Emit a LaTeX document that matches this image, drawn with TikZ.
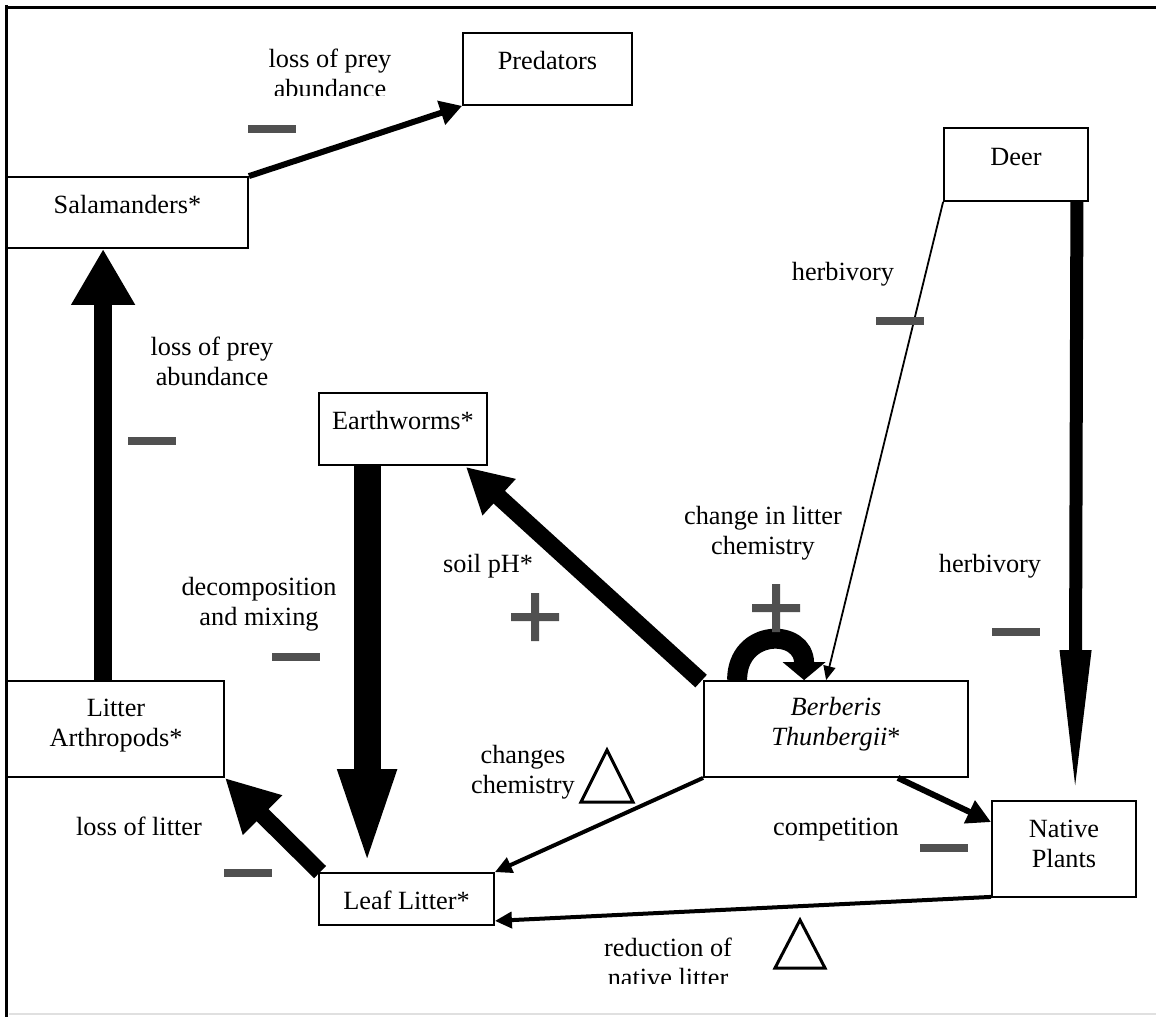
\documentclass[tikz,border=0pt]{standalone}
\usepackage{fontspec}
\setmainfont{Liberation Serif}
\usetikzlibrary{arrows.meta,calc}
\definecolor{sgray}{RGB}{80,80,80}
\begin{document}
\begin{tikzpicture}[x=1pt,y=-1pt,
  box/.style={draw,line width=1.8pt,inner sep=0pt,rectangle},
  txt/.style={font=\fontsize{26.3}{30}\selectfont,inner sep=0pt,align=center},
  minus/.style={fill=sgray,minimum width=48pt,minimum height=8pt,inner sep=0pt,rectangle},
  conn/.style={draw=black},
  tri/.style={draw=black,line width=3pt,line join=miter}
]
\useasboundingbox (0,0) rectangle (1156,1017);
% frame
\draw[line width=3pt] (5,7) -- (1156,7);
\draw[line width=3pt] (6.5,5) -- (6.5,1017);
\draw[black!12,line width=1.5pt] (9,1014) -- (1156,1014);

% boxes
\node[box,minimum width=169pt,minimum height=72pt] (pred) at (547.5,69) {};
\node[box,minimum width=241pt,minimum height=71pt] (sal) at (127.5,212.5) {};
\node[box,minimum width=144pt,minimum height=73pt] (deer) at (1016,164.5) {};
\node[box,minimum width=168pt,minimum height=72pt] (ew) at (403,429) {};
\node[box,minimum width=217pt,minimum height=96pt] (arth) at (115.5,729) {};
\node[box,minimum width=264pt,minimum height=96pt] (ber) at (836,729) {};
\node[box,minimum width=144pt,minimum height=96pt] (nat) at (1064,849) {};
\node[box,minimum width=175pt,minimum height=52pt] (leaf) at (406.5,899) {};

% box texts
\node[txt,anchor=base] (predt) at (547.5,69) {Predators};
\node[txt,anchor=base] (salt) at (127.5,213) {Salamanders*};
\node[txt,anchor=base] (deert) at (1016,165) {Deer};
\node[txt,anchor=base] (ewt) at (403,429) {Earthworms*};
\node[txt,anchor=base] (leaft) at (406.5,909) {Leaf Litter*};
\node[txt] (artht) at (116,725.5) {Litter\\Arthropods*};
\node[txt] (bert) at (836,724.5) {\textit{Berberis}\\\textit{Thunbergii}*};
\node[txt] (natt) at (1064,844) {Native\\Plants};

% connectors
\draw[conn,line width=6pt,-{Triangle[length=22pt,width=24pt]}] (sal.north east) -- (pred.south west);
\draw[conn,line width=18pt,-{Triangle[length=56pt,width=60pt]}] ($(arth.north west)+(97,0)$) -- ($(sal.south west)+(97,0)$);
\draw[conn,line width=27pt,-{Triangle[length=105pt,width=50pt]}] ($(ew.south west)+(49,0)$) -- ($(leaf.north west)+(49,2)$);
\draw[conn,line width=17pt,-{Triangle[length=45pt,width=46pt]}] ($(ber.north west)+(-2,1)$) -- ($(ew.south east)+(-22,1)$);
\draw[conn,line width=17pt,-{Triangle[length=53pt,width=52pt]}] ($(leaf.north west)+(2,0)$) -- (arth.south east);
\draw[conn,line width=1.8pt,-{Triangle[length=14pt,width=12pt]}] (deer.south west) -- ($(ber.north west)+(123,0)$);
\draw[conn,line width=13pt,-{Triangle[length=150pt,width=28pt]}] ($(deer.south east)+(-12,0)$) -- ($(nat.north west)+(84,0)$);
\draw[conn,line width=20pt,-{Triangle[length=18pt,width=42pt]}] ($(ber.north west)+(34,0)$) .. controls +(0,-52) and +(0,-52) .. ($(ber.north west)+(101,0)$);
\draw[conn,line width=6pt,-{Triangle[length=24pt,width=24pt]}] ($(ber.south east)+(-71,0)$) -- ($(nat.north west)+(0,22)$);
\draw[conn,line width=4pt,-{Triangle[length=17pt,width=16pt]}] (ber.south west) -- (leaf.north east);
\draw[conn,line width=4pt,-{Triangle[length=17pt,width=16pt]}] ($(nat.south west)+(0,-1)$) -- ($(leaf.south east)+(0,-5)$);

% labels
\begin{scope}
\clip (200,20) rectangle (460,95);
\node[txt] (l1) at (330,73.5) {loss of prey\\abundance};
\end{scope}
\node[txt] (l2) at (212,361.5) {loss of prey\\abundance};
\node[txt] (l3) at (259,604.5) {decomposition\\and mixing};
\node[txt,anchor=base west] (l4) at (443,572) {soil pH*};
\node[txt] (l5) at (763,533.5) {change in litter\\chemistry};
\node[txt,anchor=base] (l6) at (843,280) {herbivory};
\node[txt,anchor=base] (l7) at (990,572) {herbivory};
\node[txt] (l8) at (523,772) {changes\\chemistry};
\node[txt,anchor=base] (l9) at (836,835) {competition};
\node[txt,anchor=base] (l10) at (139,835) {loss of litter};
\begin{scope}
\clip (500,900) rectangle (850,983);
\node[txt] (l11) at (668,962) {reduction of\\native litter};
\end{scope}

% signs
\node[minus] (m1) at (272,129) {};
\node[minus] (m2) at (152,441) {};
\node[minus] (m3) at (296,657) {};
\node[minus] (m4) at (248,873) {};
\node[minus] (m5) at (900,321) {};
\node[minus] (m6) at (1016,632) {};
\node[minus] (m7) at (944,848) {};
\fill[sgray] (511,613) rectangle (559,621) (531,593) rectangle (539,641);
\fill[sgray] (752,604) rectangle (800,612) (772,584) rectangle (780,632);

% triangles
\draw[tri] (607,750) -- (581,802) -- (633,802) -- cycle;
\draw[tri] (800,920) -- (775,968) -- (825,968) -- cycle;
\end{tikzpicture}
\end{document}
